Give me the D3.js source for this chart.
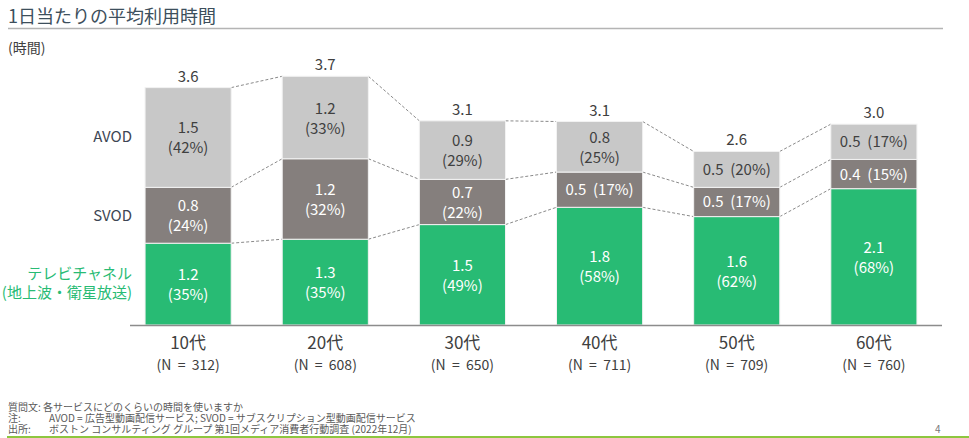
<!DOCTYPE html>
<html><head><meta charset="utf-8">
<script src="https://cdn.jsdelivr.net/npm/d3@7"></script>
<style>body{margin:0;background:#fff;} svg{display:block;}</style>
</head><body>
<svg id="c" width="969" height="438"></svg>
<script>
// ---- data ----
const categories = ["10代","20代","30代","40代","50代","60代"];
const sampleN = [312,608,650,711,709,760];
// estimated hours (for geometry)
const tvHours   = [1.23,1.29,1.51,1.77,1.63,2.05];
const svodHours = [0.84,1.21,0.68,0.53,0.44,0.44];
const avodHours = [1.50,1.24,0.88,0.76,0.54,0.53];
// labels shown on the chart
const tvShown   = [1.2,1.3,1.5,1.8,1.6,2.1];
const svodShown = [0.8,1.2,0.7,0.5,0.5,0.4];
const avodShown = [1.5,1.2,0.9,0.8,0.5,0.5];
const tvPct   = [35,35,49,58,62,68];
const svodPct = [24,32,22,17,17,15];
const avodPct = [42,33,29,25,20,17];
const totals  = [3.6,3.7,3.1,3.1,2.6,3.0];
const seriesNames = ["テレビチャネル","SVOD","AVOD"];

(function(){
const FONT = "'Noto Sans CJK JP','Noto Sans',sans-serif";
const svg = d3.select("#c");

// title
svg.append("text").attr("x",8).attr("y",23).attr("font-family",FONT).attr("font-size",18)
  .attr("fill","#3d4f5c").text("1日当たりの平均利用時間");
svg.append("line").attr("x1",8).attr("x2",943).attr("y1",28.5).attr("y2",28.5)
  .attr("stroke","#b4b4b4").attr("stroke-width",1.5);
svg.append("text").attr("x",8).attr("y",53).attr("font-family",FONT).attr("font-size",14)
  .attr("fill","#404040").text("(時間)");

// scales
const x = d3.scaleBand().domain(categories).range([119,943]).paddingInner(0.372).paddingOuter(0.19);
const y = d3.scaleLinear().domain([0,4]).range([325,59]);

const series = [
  {name:"tv", hours:tvHours, shown:tvShown, pct:tvPct, fill:"#28bb74", text:"#ffffff"},
  {name:"svod", hours:svodHours, shown:svodShown, pct:svodPct, fill:"#857f7d", text:"#ffffff"},
  {name:"avod", hours:avodHours, shown:avodShown, pct:avodPct, fill:"#c8c8c8", text:"#404040"}
];
const stackData = categories.map((c,i)=>({cat:c, tv:tvHours[i], svod:svodHours[i], avod:avodHours[i]}));
const stacked = d3.stack().keys(["tv","svod","avod"])(stackData);

// dashed connectors
const gConn = svg.append("g");
stacked.forEach(layer=>{
  for(let i=0;i<categories.length-1;i++){
    gConn.append("line")
      .attr("x1",x(categories[i])+x.bandwidth()).attr("y1",y(layer[i][1]))
      .attr("x2",x(categories[i+1])).attr("y2",y(layer[i+1][1]))
      .attr("stroke","#8a8a8a").attr("stroke-width",1).attr("stroke-dasharray","3,2");
  }
});

// bars
stacked.forEach((layer,k)=>{
  const s = series[k];
  const g = svg.append("g");
  g.selectAll("rect").data(layer).join("rect")
    .attr("x",(d,i)=>x(categories[i]))
    .attr("width",x.bandwidth())
    .attr("y",d=>y(d[1]))
    .attr("height",d=>y(d[0])-y(d[1]))
    .attr("fill",s.fill).attr("stroke","#f2f2f2").attr("stroke-width",1);
  layer.forEach((d,i)=>{
    const cx = x(categories[i])+x.bandwidth()/2;
    const cy = (y(d[0])+y(d[1]))/2;
    const h = y(d[0])-y(d[1]);
    const v = s.shown[i].toFixed(1), p = "("+s.pct[i]+"%)";
    if(h>40){
      g.append("text").attr("x",cx).attr("y",cy-4).attr("text-anchor","middle")
        .attr("font-family",FONT).attr("font-size",15).attr("fill",s.text).text(v);
      g.append("text").attr("x",cx).attr("y",cy+16).attr("text-anchor","middle")
        .attr("font-family",FONT).attr("font-size",15).attr("fill",s.text).text(p);
    } else {
      g.append("text").attr("x",cx).attr("y",cy+5.5).attr("text-anchor","middle")
        .attr("font-family",FONT).attr("font-size",15).attr("fill",s.text)
        .attr("xml:space","preserve").text(v+"  "+p);
    }
  });
});

// totals
const topLayer = stacked[2];
svg.append("g").selectAll("text").data(topLayer).join("text")
  .attr("x",(d,i)=>x(categories[i])+x.bandwidth()/2)
  .attr("y",d=>y(d[1])-6)
  .attr("text-anchor","middle").attr("font-family",FONT).attr("font-size",15)
  .attr("fill","#404040").text((d,i)=>totals[i].toFixed(1));

// axis
const axis = svg.append("g").attr("transform","translate(0,325)")
  .call(d3.axisBottom(x).tickSize(0).tickPadding(0).tickFormat(()=>""));
axis.select(".domain").attr("d","M130,0.5H942").attr("stroke","#8c8c8c").attr("stroke-width",1.5);
axis.selectAll(".tick").each(function(d,i){
  const t = d3.select(this);
  t.append("text").attr("y",24).attr("text-anchor","middle").attr("font-family",FONT)
    .attr("font-size",17).attr("fill","#404040").text(d);
  t.append("text").attr("y",45).attr("text-anchor","middle").attr("font-family",FONT)
    .attr("font-size",14).attr("fill","#404040").attr("xml:space","preserve")
    .text("(N  =  "+sampleN[i]+")");
});

// series labels (left), aligned to first bar's segments
const first = stacked.map(l=>l[0]);
const lx = 132;
const c0 = (first[2][0]+first[2][1])/2, c1=(first[1][0]+first[1][1])/2, c2=(first[0][0]+first[0][1])/2;
svg.append("text").attr("x",lx).attr("y",y(c0)+5).attr("text-anchor","end").attr("font-family",FONT)
  .attr("font-size",15).attr("fill","#3d4654").text(seriesNames[2]);
svg.append("text").attr("x",lx).attr("y",y(c1)+6).attr("text-anchor","end").attr("font-family",FONT)
  .attr("font-size",15).attr("fill","#3d4654").text(seriesNames[1]);
svg.append("text").attr("x",lx).attr("y",y(c2)-5).attr("text-anchor","end").attr("font-family",FONT)
  .attr("font-size",15).attr("fill","#28bb74").text(seriesNames[0]);
svg.append("text").attr("x",lx).attr("y",y(c2)+14).attr("text-anchor","end").attr("font-family",FONT)
  .attr("font-size",15).attr("fill","#28bb74").text("(地上波・衛星放送)");

// footnotes
const fn = svg.append("g").attr("font-family",FONT).attr("font-size",10).attr("fill","#595959");
fn.append("text").attr("x",8).attr("y",411).text("質問文: 各サービスにどのくらいの時間を使いますか");
fn.append("text").attr("x",8).attr("y",422).text("注:");
fn.append("text").attr("x",49).attr("y",422).text("AVOD = 広告型動画配信サービス; SVOD = サブスクリプション型動画配信サービス");
fn.append("text").attr("x",8).attr("y",433).text("出所:");
fn.append("text").attr("x",49).attr("y",433).text("ボストン コンサルティング グループ 第1回メディア消費者行動調査 (2022年12月)");
fn.append("text").attr("x",935).attr("y",433).attr("fill","#777").text("4");
svg.append("rect").attr("x",7).attr("y",436).attr("width",962).attr("height",3).attr("fill","#8dc63f");
})();
</script>
</body></html>
